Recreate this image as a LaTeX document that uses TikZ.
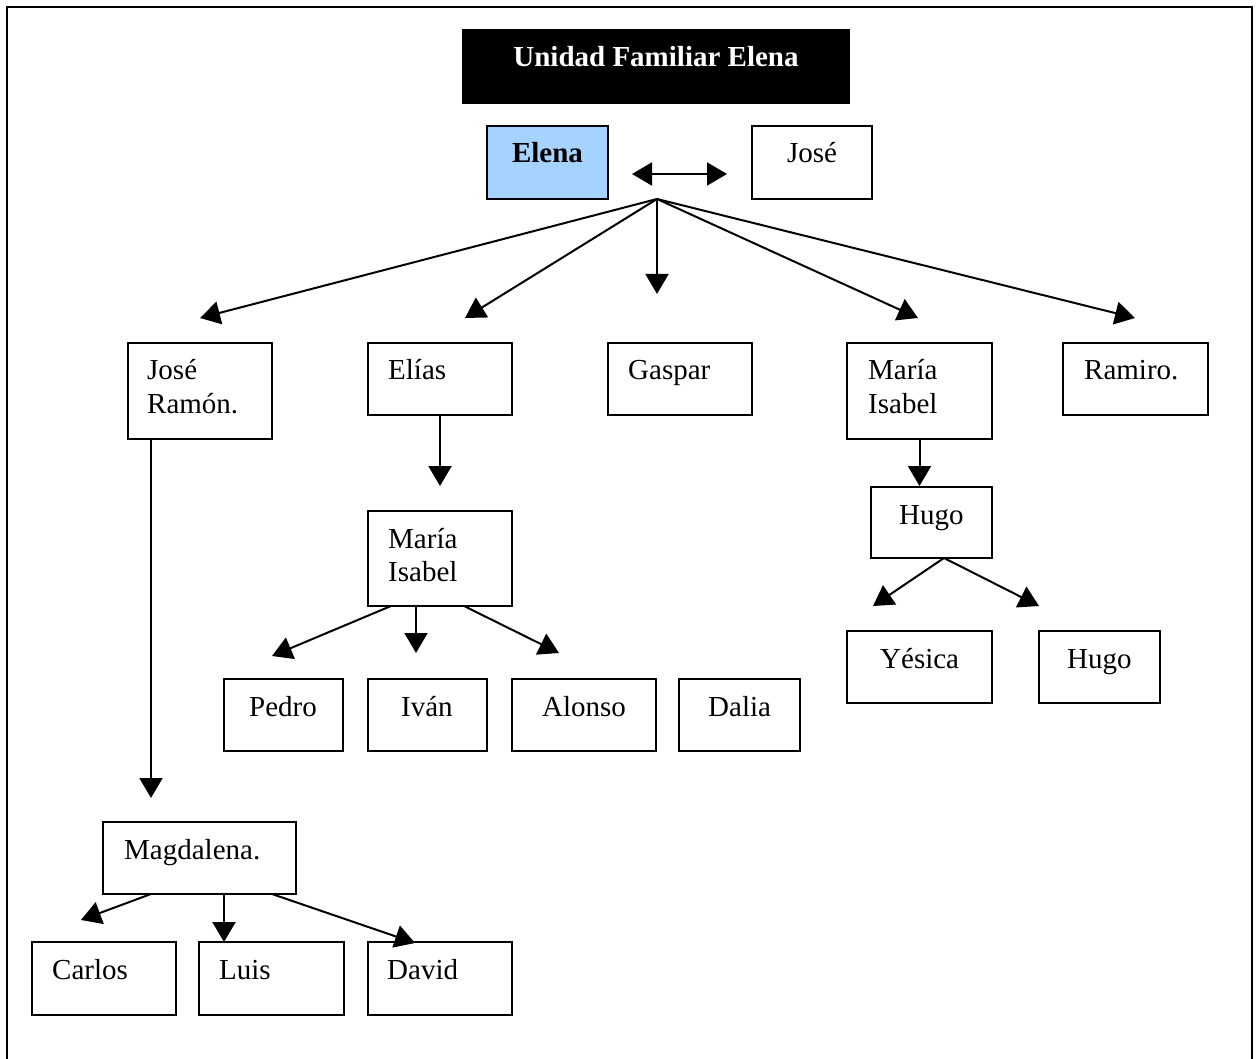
\documentclass[tikz,border=0pt]{standalone}
\usepackage{fontspec}
\setmainfont{Liberation Serif}
\usetikzlibrary{arrows.meta}
\definecolor{paleblue}{RGB}{166,210,255}
\begin{document}
\begin{tikzpicture}[x=1pt,y=-1pt,
  box/.style={draw=black, line width=2pt, rectangle, inner sep=0pt},
  lbl/.style={anchor=base west, inner sep=0pt, font=\fontsize{29}{34}\selectfont},
  lblb/.style={anchor=base, inner sep=0pt, font=\bfseries\fontsize{29}{34}\selectfont},
  conn/.style={line width=2pt, -{Triangle[length=20pt,width=23pt]}},
  dconn/.style={line width=2pt, {Triangle[length=20pt,width=23pt]}-{Triangle[length=20pt,width=23pt]}},
]
\useasboundingbox (0,0) rectangle (1256,1059);
\draw[line width=2.5pt] (7,1059) -- (7,7) -- (1252,7) -- (1252,1059);

% boxes
\node[box, fill=black, minimum width=386pt, minimum height=73pt] (title) at (656,66.5) {};
\node[box, fill=paleblue, minimum width=121pt, minimum height=73pt] (elena) at (547.5,162.5) {};
\node[box, minimum width=120pt, minimum height=73pt] (jose) at (812,162.5) {};
\node[box, minimum width=144pt, minimum height=96pt] (jr) at (200,391) {};
\node[box, minimum width=144pt, minimum height=72pt] (elias) at (440,379) {};
\node[box, minimum width=144pt, minimum height=72pt] (gaspar) at (680,379) {};
\node[box, minimum width=145pt, minimum height=96pt] (mib) at (919.5,391) {};
\node[box, minimum width=145pt, minimum height=72pt] (ramiro) at (1135.5,379) {};
\node[box, minimum width=144pt, minimum height=95pt] (mia) at (440,558.5) {};
\node[box, minimum width=119pt, minimum height=72pt] (pedro) at (283.5,715) {};
\node[box, minimum width=119pt, minimum height=72pt] (ivan) at (427.5,715) {};
\node[box, minimum width=144pt, minimum height=72pt] (alonso) at (584,715) {};
\node[box, minimum width=121pt, minimum height=72pt] (dalia) at (739.5,715) {};
\node[box, minimum width=121pt, minimum height=71pt] (hugo) at (931.5,522.5) {};
\node[box, minimum width=145pt, minimum height=72pt] (yesica) at (919.5,667) {};
\node[box, minimum width=121pt, minimum height=72pt] (hugob) at (1099.5,667) {};
\node[box, minimum width=193pt, minimum height=72pt] (magda) at (199.5,858) {};
\node[box, minimum width=144pt, minimum height=73pt] (carlos) at (104,978.5) {};
\node[box, minimum width=145pt, minimum height=73pt] (luis) at (271.5,978.5) {};
\node[box, minimum width=144pt, minimum height=73pt] (david) at (440,978.5) {};

% texts
\node[lblb, text=white] (t-title) at (656,67) {Unidad Familiar Elena};
\node[lblb] (t-elena) at (547.5,163) {Elena};
\node[lbl, anchor=base] (t-jose) at (812,163) {José};
\node[lbl] (t-jr1) at (147,380) {José};
\node[lbl] (t-jr2) at (147,413) {Ramón.};
\node[lbl] (t-elias) at (388,380) {Elías};
\node[lbl] (t-gaspar) at (628,380) {Gaspar};
\node[lbl] (t-mib1) at (868,380) {María};
\node[lbl] (t-mib2) at (868,413) {Isabel};
\node[lbl] (t-ramiro) at (1084,380) {Ramiro.};
\node[lbl] (t-mia1) at (388,548) {María};
\node[lbl] (t-mia2) at (388,581) {Isabel};
\node[lbl] (t-pedro) at (249,716) {Pedro};
\node[lbl] (t-ivan) at (401,716) {Iván};
\node[lbl] (t-alonso) at (542,716) {Alonso};
\node[lbl] (t-dalia) at (708,716) {Dalia};
\node[lbl] (t-hugo) at (899,524) {Hugo};
\node[lbl] (t-yesica) at (880,668) {Yésica};
\node[lbl] (t-hugob) at (1067,668) {Hugo};
\node[lbl] (t-magda) at (124,859) {Magdalena.};
\node[lbl] (t-carlos) at (52,979) {Carlos};
\node[lbl] (t-luis) at (219,979) {Luis};
\node[lbl] (t-david) at (387,979) {David};

% connector points
\coordinate (sp-l) at (632,174);
\coordinate (sp-r) at (727,174);
\coordinate (fan) at (657,199);
\coordinate (tip-jr) at (200,318);
\coordinate (tip-elias) at (465,318);
\coordinate (tip-gaspar) at (657,294);
\coordinate (tip-mib) at (918,318);
\coordinate (tip-ramiro) at (1135,318);
\coordinate (tip-mia) at (440,486);
\coordinate (jr-out) at (151,439);
\coordinate (tip-magda) at (151,798);
\coordinate (mia-o1) at (391,606);
\coordinate (mia-o2) at (416,606);
\coordinate (mia-o3) at (464,606);
\coordinate (tip-pedro) at (272,656);
\coordinate (tip-ivan) at (416,653);
\coordinate (tip-alonso) at (559,653);
\coordinate (tip-hugo) at (919.5,486);
\coordinate (hugo-o) at (944,558);
\coordinate (tip-yesica) at (873,606);
\coordinate (tip-hugob) at (1039,606);
\coordinate (magda-o1) at (151,894);
\coordinate (magda-o2) at (224,894);
\coordinate (magda-o3) at (272,894);
\coordinate (tip-carlos) at (81,920);
\coordinate (tip-luis) at (224,942);
\coordinate (tip-david) at (415,943);

% connectors
\draw[dconn] (sp-l) -- (sp-r);
\draw[conn] (fan) -- (tip-jr);
\draw[conn] (fan) -- (tip-elias);
\draw[conn] (fan) -- (tip-gaspar);
\draw[conn] (fan) -- (tip-mib);
\draw[conn] (fan) -- (tip-ramiro);
\draw[conn] (elias.south) -- (tip-mia);
\draw[conn] (jr-out) -- (tip-magda);
\draw[conn] (mia-o1) -- (tip-pedro);
\draw[conn] (mia-o2) -- (tip-ivan);
\draw[conn] (mia-o3) -- (tip-alonso);
\draw[conn] (mib.south) -- (tip-hugo);
\draw[conn] (hugo-o) -- (tip-yesica);
\draw[conn] (hugo-o) -- (tip-hugob);
\draw[conn] (magda-o1) -- (tip-carlos);
\draw[conn] (magda-o2) -- (tip-luis);
\draw[conn] (magda-o3) -- (tip-david);
\end{tikzpicture}
\end{document}
